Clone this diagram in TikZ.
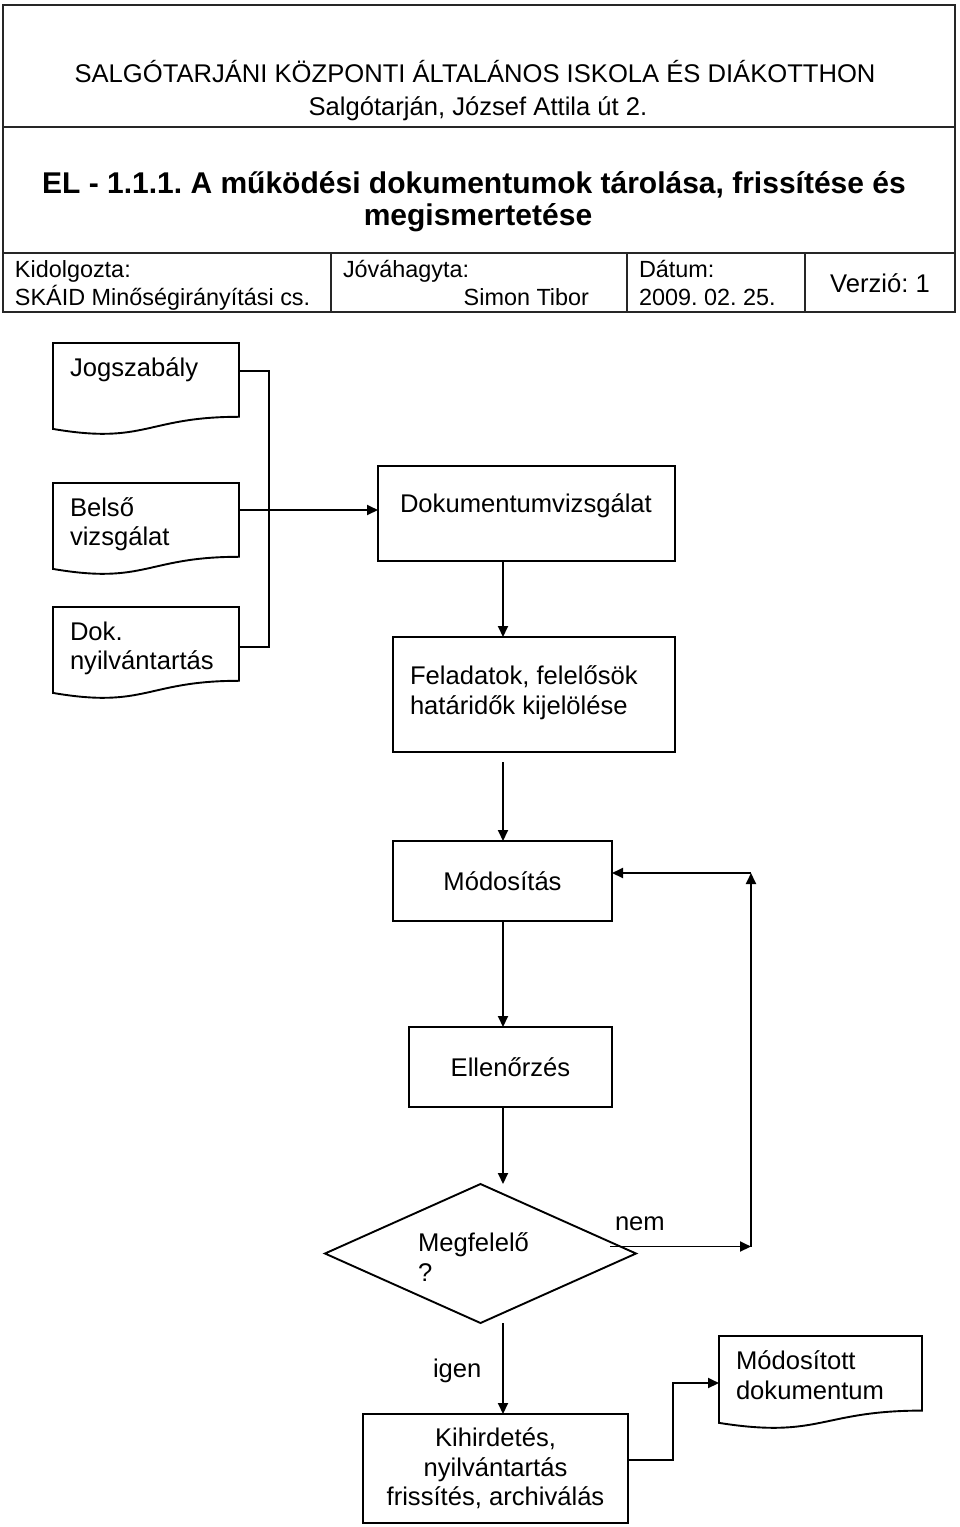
\documentclass[tikz,border=0pt]{standalone}
\usepackage{fontspec}
\setmainfont{Liberation Sans}
\usetikzlibrary{arrows.meta,calc,shapes.geometric}
\frenchspacing
\newcommand{\bodyfont}{\fontsize{25.6}{29.5}\selectfont}
\newcommand{\infofont}{\fontsize{23.4}{28}\selectfont}
\newcommand{\docoutline}[1]{%
  \draw[ln] (#1.north west) -- (#1.north east) -- ($(#1.north east)!0.802!(#1.south east)$)
    .. controls ($(#1.north)!0.802!(#1.south)$) and ($(#1.north)!1.107!(#1.south)$) ..
    ($(#1.north west)!0.934!(#1.south west)$) -- cycle;}
\begin{document}
\frenchspacing
\begin{tikzpicture}[x=1pt,y=-1pt,line join=miter,
  hdr/.style={draw=black!85,line width=2.8pt},
  ln/.style={draw=black,line width=1.9pt},
  arr/.style={ln,-{Triangle[length=11pt,width=10pt]}},
  box/.style={rectangle,draw=black,line width=1.9pt,inner sep=0pt,outer sep=0pt,font=\bodyfont,align=center},
  docarea/.style={rectangle,draw=none,inner sep=0pt,outer sep=0pt},
  txt/.style={inner sep=0pt,outer sep=0pt,font=\bodyfont,anchor=base west},
  info/.style={inner sep=0pt,outer sep=0pt,font=\infofont,anchor=base west}]
\useasboundingbox (0,0) rectangle (960,1527);
\fill[white] (0,0) rectangle (960,1527);

% ---------- header ----------
\draw[hdr] (3,5) rectangle (955,312);
\draw[hdr] (3,127) -- (955,127);
\draw[hdr] (3,253) -- (955,253);
\draw[hdr] (331,253) -- (331,312);
\draw[hdr] (627,253) -- (627,312);
\draw[hdr] (805,253) -- (805,312);

\node[inner sep=0pt,anchor=base,font=\fontsize{25.6}{29}\selectfont] (h1) at (475,82) {SALGÓTARJÁNI KÖZPONTI ÁLTALÁNOS ISKOLA ÉS DIÁKOTTHON};
\node[inner sep=0pt,anchor=base,font=\fontsize{25.6}{29}\selectfont] (h2) at (478,115) {Salgótarján, József Attila út 2.};
\node[inner sep=0pt,anchor=base,font=\fontsize{30}{33}\selectfont\bfseries] (h3) at (474,193) {EL - 1.1.1. A működési dokumentumok tárolása, frissítése és};
\node[inner sep=0pt,anchor=base,font=\fontsize{30}{33}\selectfont\bfseries] (h4) at (478,225) {megismertetése};

\node[info] (i1) at (15,277) {Kidolgozta:};
\node[info] (i2) at (15,305) {SKÁID Minőségirányítási cs.};
\node[info] (i3) at (343,277) {Jóváhagyta:};
\node[info,anchor=base east] (i4) at (589,305) {Simon Tibor};
\node[info] (i5) at (639,277) {Dátum:};
\node[info] (i6) at (639,305) {2009. 02. 25.};
\node[inner sep=0pt,anchor=base,font=\fontsize{25.6}{29}\selectfont] (i7) at (880,292) {Verzió: 1};

% ---------- documents ----------
\node[docarea,minimum width=186pt,minimum height=92pt] (jog) at (146,389) {};
\node[docarea,minimum width=186pt,minimum height=92pt] (bel) at (146,529) {};
\node[docarea,minimum width=186pt,minimum height=92pt] (dok) at (146,653) {};
\node[docarea,minimum width=203pt,minimum height=93pt] (mdok) at (820.5,1382.5) {};
\docoutline{jog}
\docoutline{bel}
\docoutline{dok}
\docoutline{mdok}
\node[txt] (tjog) at (70,376) {Jogszabály};
\node[txt] (tbel1) at (70,516) {Belső};
\node[txt] (tbel2) at (70,545) {vizsgálat};
\node[txt] (tdok1) at (70,640) {Dok.};
\node[txt] (tdok2) at (70,669) {nyilvántartás};
\node[txt] (tmd1) at (736,1369) {Módosított};
\node[txt] (tmd2) at (736,1399) {dokumentum};

% ---------- process boxes ----------
\node[box,minimum width=297pt,minimum height=95pt] (dv) at (526.5,513.5) {};
\node[txt] (tdv) at (400,512) {Dokumentumvizsgálat};
\node[box,minimum width=282pt,minimum height=115pt] (fel) at (534,694.5) {};
\node[txt] (tfel1) at (410,684) {Feladatok, felelősök};
\node[txt] (tfel2) at (410,714) {határidők kijelölése};
\node[box,minimum width=219pt,minimum height=80pt] (mod) at (502.5,881) {Módosítás};
\node[box,minimum width=203pt,minimum height=80pt] (ell) at (510.5,1067) {Ellenőrzés};
\node[diamond,draw=black,line width=1.9pt,inner sep=0pt,outer sep=0pt,minimum width=311pt,minimum height=139pt] (dia) at (480.5,1253.5) {};
\node[txt] (tdia1) at (418,1251) {Megfelelő};
\node[txt] (tdia2) at (418,1281) {?};
\node[box,minimum width=265pt,minimum height=109pt] (kih) at (495.5,1468.5) {Kihirdetés,\\nyilvántartás\\frissítés, archiválás};

% ---------- connectors ----------
\coordinate (bx) at (269,500);
\coordinate (cx) at (503,0);
\coordinate (lx) at (751,0);
\coordinate (kx) at (673,0);
\coordinate (jogout) at ($(jog.north east)+(0,28)$);
\coordinate (belout) at ($(bel.north east)+(0,27)$);
\coordinate (dokout) at ($(dok.north east)+(0,40)$);
\draw[ln] (jogout) -- (jogout -| bx) -- (dokout -| bx) -- (dokout);
\draw[arr] (belout) -- (belout -| dv.west);
\draw[arr] (dv.south -| cx) -- (fel.north -| cx);
\draw[arr] ($(fel.south -| cx)+(0,10)$) -- (mod.north -| cx);
\draw[arr] (mod.south -| cx) -- (ell.north -| cx);
\draw[arr] (ell.south -| cx) -- (dia.north -| cx);
\draw[arr] (dia.south -| cx) -- (kih.north -| cx);
\node[txt] (tigen) at (433,1377) {igen};

\coordinate (nemstart) at ($(dia.east)+(-26,-7)$);
\coordinate (modin) at ($(mod.north east)+(0,32)$);
\draw[arr] (nemstart) -- (nemstart -| lx);
\draw[arr] (nemstart -| lx) -- (lx |- modin);
\draw[arr] (lx |- modin) -- (modin);
\node[txt] (tnem) at (615,1230) {nem};

\coordinate (kihout) at ($(kih.north east)+(0,46)$);
\coordinate (mdin) at ($(mdok.north west)+(0,47)$);
\draw[arr] (kihout) -- (kihout -| kx) -- (kx |- mdin) -- (mdin);
\end{tikzpicture}
\end{document}
